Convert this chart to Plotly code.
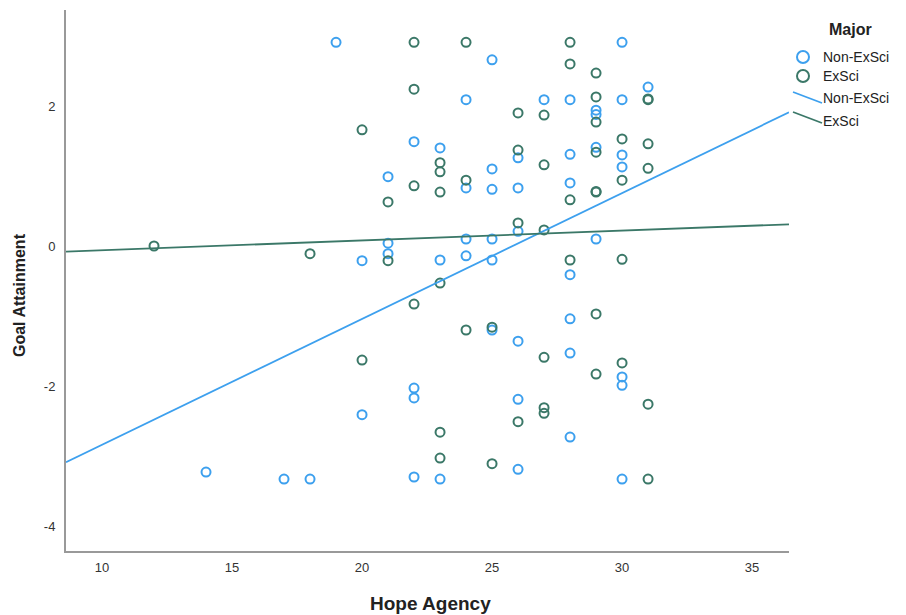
import plotly.graph_objects as go

# ---- data ----
non_x = [14, 17, 18, 19,
         20, 20,
         21, 21, 21,
         22, 22, 22, 22,
         23, 23, 23,
         24, 24, 24, 24,
         25, 25, 25, 25, 25, 25,
         26, 26, 26, 26, 26, 26,
         27,
         28, 28, 28, 28, 28, 28, 28,
         29, 29, 29, 29,
         30, 30, 30, 30, 30, 30, 30,
         31]
non_y = [-3.23, -3.33, -3.33, 2.91,
         -0.21, -2.41,
         0.99, 0.04, -0.11,
         1.49, -2.03, -2.17, -3.30,
         1.40, -0.20, -3.33,
         2.09, 0.83, 0.10, -0.14,
         2.66, 1.10, 0.81, 0.10, -0.20, -1.20,
         1.26, 0.83, 0.21, -1.36, -2.19, -3.19,
         2.09,
         2.09, 1.31, 0.90, -0.41, -1.04, -1.53, -2.73,
         1.94, 1.88, 1.41, 0.10,
         2.91, 2.09, 1.30, 1.13, -1.87, -1.99, -3.33,
         2.27]

ex_x = [12, 18,
        20, 20,
        21, 21,
        22, 22, 22, 22,
        23, 23, 23, 23, 23, 23,
        24, 24, 24,
        25, 25,
        26, 26, 26, 26,
        27, 27, 27, 27, 27, 27,
        28, 28, 28, 28,
        29, 29, 29, 29, 29, 29, 29, 29,
        30, 30, 30, 30,
        31, 31, 31, 31, 31, 31]
ex_y = [0.00, -0.11,
        1.66, -1.63,
        0.63, -0.21,
        2.91, 2.24, 0.86, -0.83,
        1.19, 1.06, 0.77, -0.53, -2.66, -3.03,
        2.91, 0.94, -1.20,
        -1.16, -3.11,
        1.90, 1.37, 0.33, -2.51,
        1.87, 1.16, 0.23, -1.59, -2.31, -2.39,
        2.91, 2.60, 0.66, -0.20,
        2.47, 2.13, 1.77, 1.34, 0.77, 0.78, -0.97, -1.83,
        1.53, 0.94, -0.19, -1.67,
        2.09, 2.10, 1.46, 1.11, -2.26, -3.33]

fit_x = [8.615, 36.42]
non_fit_y = [-3.09, 1.91]
ex_fit_y = [-0.08, 0.31]

x_ticks = [10, 15, 20, 25, 30, 35]
x_tick_text = ["10", "15", "20", "25", "30", "35"]
y_ticks = [-4, -2, 0, 2]
y_tick_text = ["-4", "-2", "0", "2"]

legend_title = "Major"
legend_labels = ["Non-ExSci", "ExSci", "Non-ExSci", "ExSci"]

BLUE = "#3da0ee"
TEAL = "#3b7868"
FONT = "Liberation Sans, Arial, sans-serif"

fig = go.Figure()
fig.add_trace(go.Scatter(x=non_x, y=non_y, mode="markers", name="Non-ExSci",
                         marker=dict(symbol="circle-open", size=9, color=BLUE,
                                     line=dict(width=2, color=BLUE))))
fig.add_trace(go.Scatter(x=ex_x, y=ex_y, mode="markers", name="ExSci",
                         marker=dict(symbol="circle-open", size=9, color=TEAL,
                                     line=dict(width=2, color=TEAL))))
fig.add_trace(go.Scatter(x=fit_x, y=non_fit_y, mode="lines", name="Non-ExSci",
                         line=dict(color=BLUE, width=1.8)))
fig.add_trace(go.Scatter(x=fit_x, y=ex_fit_y, mode="lines", name="ExSci",
                         line=dict(color=TEAL, width=1.8)))

# page has an 8px body margin: figure sits at (8, 8)
fig.update_layout(
    width=898, height=607,
    margin=dict(l=58, r=117, t=2, b=64),
    paper_bgcolor="white", plot_bgcolor="white",
    showlegend=False,
    font=dict(family=FONT, color="#222"),
)
fig.update_xaxes(range=[8.615, 36.42], tickvals=x_ticks, ticktext=x_tick_text, ticks="",
                 showgrid=False, zeroline=False, showline=True,
                 linecolor="#999999", linewidth=2,
                 tickfont=dict(size=13, color="#333"), ticklabelstandoff=3)
fig.update_yaxes(range=[-4.357, 3.371], tickvals=y_ticks, ticktext=y_tick_text, ticks="",
                 showgrid=False, zeroline=False, showline=True,
                 linecolor="#999999", linewidth=2,
                 tickfont=dict(size=13, color="#333"), ticklabelstandoff=6)

# page-pixel -> paper coordinates (plot area spans x 66..789, y 10..551 on the page)
PL, PW, PT, PH = 66, 723, 10, 541
def px(xp):
    return (xp - PL) / PW
def py(yp):
    return 1 - (yp - PT) / PH

# axis titles
fig.add_annotation(text="<b>Hope Agency</b>", xref="paper", yref="paper",
                   x=px(430), y=py(603), showarrow=False,
                   font=dict(size=19, color="#222"), xanchor="center", yanchor="middle")
fig.add_annotation(text="<b>Goal Attainment</b>", xref="paper", yref="paper",
                   x=px(19), y=py(295), textangle=-90, showarrow=False,
                   font=dict(size=16, color="#222"), xanchor="center", yanchor="middle")

# custom legend
fig.add_annotation(text="<b>" + legend_title + "</b>", xref="paper", yref="paper",
                   x=px(850), y=py(29), showarrow=False,
                   font=dict(size=16, color="#222"), xanchor="center", yanchor="middle")
for txt, yp in zip(legend_labels, [57, 76, 98, 121]):
    fig.add_annotation(text=txt, xref="paper", yref="paper", x=px(821), y=py(yp),
                       showarrow=False, font=dict(size=14, color="#222"),
                       xanchor="left", yanchor="middle")
for col, yc in [(BLUE, 57), (TEAL, 76)]:
    fig.add_shape(type="circle", xref="paper", yref="paper",
                  x0=px(797), x1=px(809), y0=py(yc - 6), y1=py(yc + 6),
                  line=dict(color=col, width=2))
fig.add_shape(type="line", xref="paper", yref="paper",
              x0=px(793), y0=py(92), x1=px(822), y1=py(103),
              line=dict(color=BLUE, width=1.8))
fig.add_shape(type="line", xref="paper", yref="paper",
              x0=px(793), y0=py(112), x1=px(822), y1=py(123),
              line=dict(color=TEAL, width=1.8))

fig.write_html("out.html")
